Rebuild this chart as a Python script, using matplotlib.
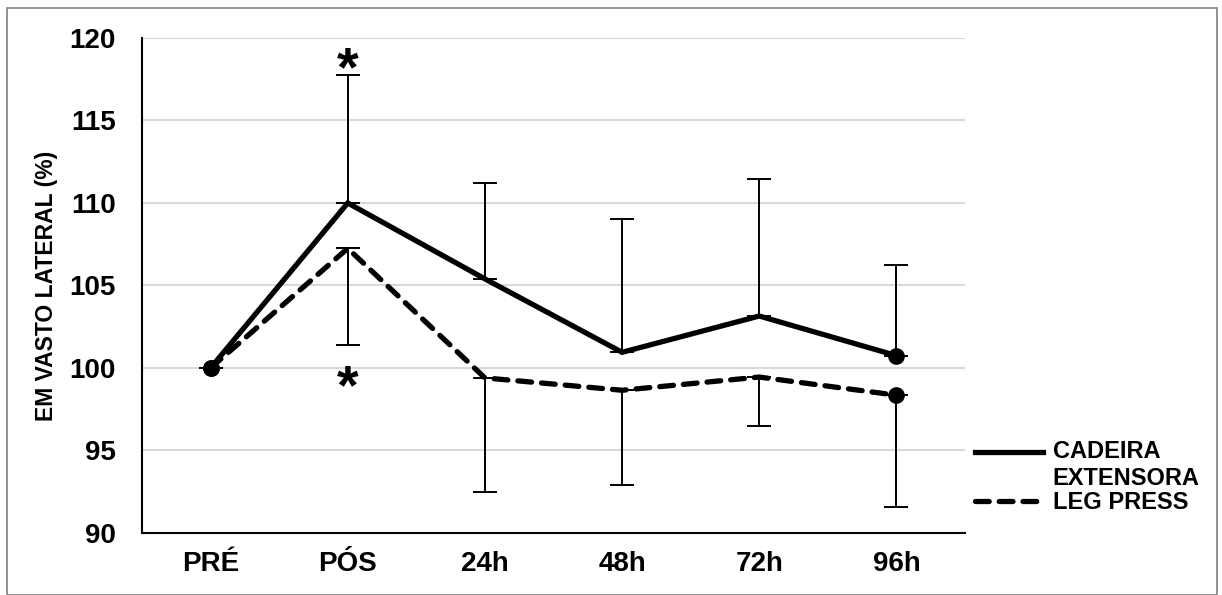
import numpy as np
import matplotlib
matplotlib.use("Agg")
import matplotlib.pyplot as plt
from matplotlib.patches import Rectangle

plt.rcParams['font.family'] = ['Liberation Sans', 'DejaVu Sans']
plt.rcParams['font.weight'] = 'bold'

# data
categories = ["PRÉ", "PÓS", "24h", "48h", "72h", "96h"]
cadeira = [100.0, 110.0, 105.4, 100.95, 103.15, 100.75]
cadeira_err_up = [0.0, 7.75, 5.8, 8.05, 8.3, 5.5]
leg_press = [100.0, 107.25, 99.4, 98.65, 99.45, 98.35]
leg_press_err_down = [0.0, 5.85, 6.9, 5.75, 2.95, 6.8]
yticks = [90, 95, 100, 105, 110, 115, 120]
star_y = [118.0, 98.7]

x = np.arange(len(categories))

fig = plt.figure(figsize=(12.22, 5.95), dpi=100)
ax = fig.add_axes([0.1162, 0.1042, 0.6735, 0.832])

ax.errorbar(x, cadeira, yerr=[np.zeros(len(x)), cadeira_err_up], fmt='none',
            ecolor='black', elinewidth=1.4, capsize=8.5, capthick=1.4, zorder=2)
ax.errorbar(x, leg_press, yerr=[leg_press_err_down, np.zeros(len(x))], fmt='none',
            ecolor='black', elinewidth=1.4, capsize=8.5, capthick=1.4, zorder=2)

ax.plot(x, cadeira, color='black', lw=3.8, marker='o', ms=11,
        markevery=[0, 5], label="CADEIRA\nEXTENSORA", zorder=3,
        solid_joinstyle='miter')
ax.plot(x, leg_press, color='black', lw=3.8, ls=(0, (2.6, 1.9)), marker='o',
        ms=11, markevery=[0, 5], label="LEG PRESS", zorder=3,
        dash_capstyle='round')

for yy in star_y:
    ax.text(x[1], yy, "*", ha='center', va='center', fontsize=40,
            fontweight='bold')

ax.set_xlim(-0.5, len(x) - 0.5)
ax.set_ylim(90, 120)
ax.set_yticks(yticks)
ax.set_xticks(x)
ax.set_xticklabels(categories)
ax.tick_params(axis='both', length=0, labelsize=20)
ax.tick_params(axis='y', pad=19)
ax.tick_params(axis='x', pad=13)
ax.grid(axis='y', color='#d9d9d9', lw=1.5)
ax.set_axisbelow(True)
for s in ['top', 'right']:
    ax.spines[s].set_visible(False)
for s in ['left', 'bottom']:
    ax.spines[s].set_linewidth(1.5)
ax.set_ylabel("EM VASTO LATERAL (%)", fontsize=16.5, fontweight='bold', labelpad=8)

leg = ax.legend(loc='center left', bbox_to_anchor=(0.788, 0.198),
                bbox_transform=fig.transFigure, frameon=False,
                prop={'size': 17, 'weight': 'bold'},
                handlelength=2.9, handletextpad=0.4, labelspacing=0.05,
                borderpad=0)
legend_lines = leg.get_lines()
for h in legend_lines:
    h.set_marker('')
# align the first handle with the first text line
y0 = legend_lines[0].get_ydata()
legend_lines[0].set_ydata(np.asarray(y0) + 10)

fig.patches.append(Rectangle((7 / 1222, 0), (1217 - 7) / 1222, 1 - 8 / 595,
                             transform=fig.transFigure, fill=False,
                             edgecolor='#808080', lw=1.2))

fig.savefig("out.png", dpi=100)
